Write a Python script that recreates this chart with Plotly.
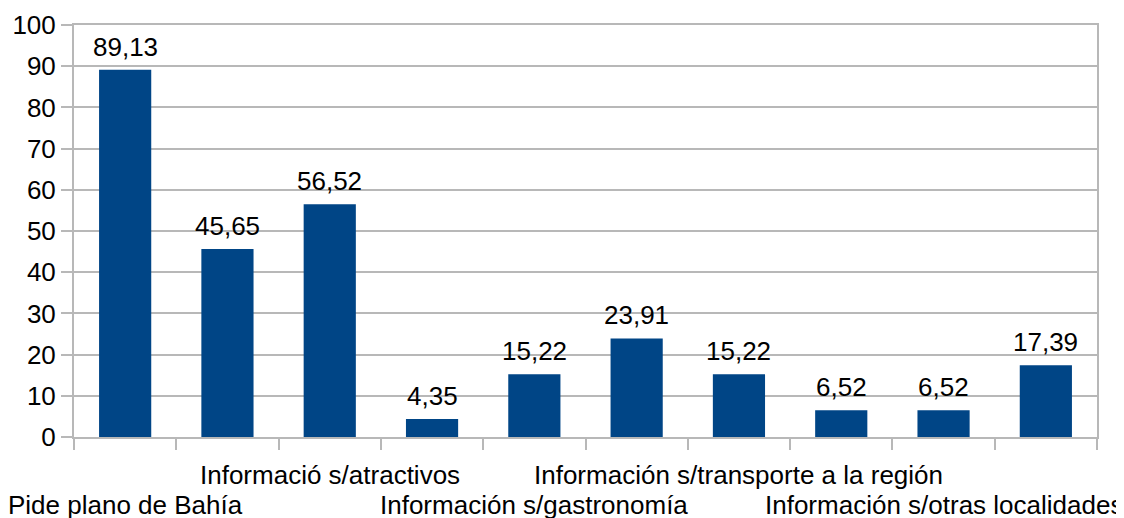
import plotly.graph_objects as go

# ---------------- Data ---------------- #
# Only every other category name is readable in the source chart;
# the hidden ones get placeholder names and are not drawn.
categories = [
    "Pide plano de Bahía",
    "Categoría 2",
    "Informació s/atractivos",
    "Categoría 4",
    "Información s/gastronomía",
    "Categoría 6",
    "Información s/transporte a la región",
    "Categoría 8",
    "Información s/otras localidades",
    "Categoría 10",
]
values = [89.13, 45.65, 56.52, 4.35, 15.22, 23.91, 15.22, 6.52, 6.52, 17.39]
shown_labels = [
    "Pide plano de Bahía",
    "Informació s/atractivos",
    "Información s/gastronomía",
    "Información s/transporte a la región",
    "Información s/otras localidades",
]
y_ticks = [0, 10, 20, 30, 40, 50, 60, 70, 80, 90, 100]

FONT = "Liberation Sans, Arial, sans-serif"
GRID = "#b8b8b8"
FS = 26

# ---------------- Figure ---------------- #
fig = go.Figure()

fig.add_trace(go.Bar(
    x=categories,
    y=values,
    marker_color="#004586",
    marker_line_width=0,
    hoverinfo="skip",
))

# value labels above the bars (decimal comma)
for cat, v in zip(categories, values):
    fig.add_annotation(
        x=cat, y=v, xref="x", yref="y",
        text=f"{v:.2f}".replace(".", ","), showarrow=False,
        yanchor="bottom", yshift=6,
        font=dict(family=FONT, size=FS, color="black"),
    )

# staggered category labels, like the original office chart
for i, lab in enumerate(shown_labels):
    fig.add_annotation(
        x=lab, y=0, xref="x", yref="paper",
        text=lab, showarrow=False,
        yanchor="middle",
        yshift=-38 if i % 2 else -68,
        font=dict(family=FONT, size=FS, color="black"),
    )

# page body has an 8px margin, so the figure is a bit smaller than the window
fig.update_layout(
    width=1116, height=510,
    margin=dict(l=66, r=27, t=17, b=81),
    paper_bgcolor="white", plot_bgcolor="white",
    font=dict(family=FONT, size=FS, color="black"),
    bargap=0.49,
    showlegend=False,
)

fig.update_xaxes(
    type="category",
    range=[-0.5, len(categories) - 0.5],
    automargin=False,
    showticklabels=False,
    ticks="outside", tickson="boundaries", ticklen=11, tickcolor=GRID, tickwidth=2,
    showline=True, linecolor=GRID, linewidth=2, mirror=True,
    showgrid=False,
)

fig.update_yaxes(
    range=[0, 100],
    automargin=False,
    tickvals=y_ticks,
    ticks="outside", ticklen=11, tickcolor=GRID, tickwidth=2,
    showline=True, linecolor=GRID, linewidth=2, mirror=True,
    showgrid=True, gridcolor=GRID, gridwidth=2,
    zeroline=False,
    tickfont=dict(family=FONT, size=FS, color="black"),
)

fig.write_html("out.html")
